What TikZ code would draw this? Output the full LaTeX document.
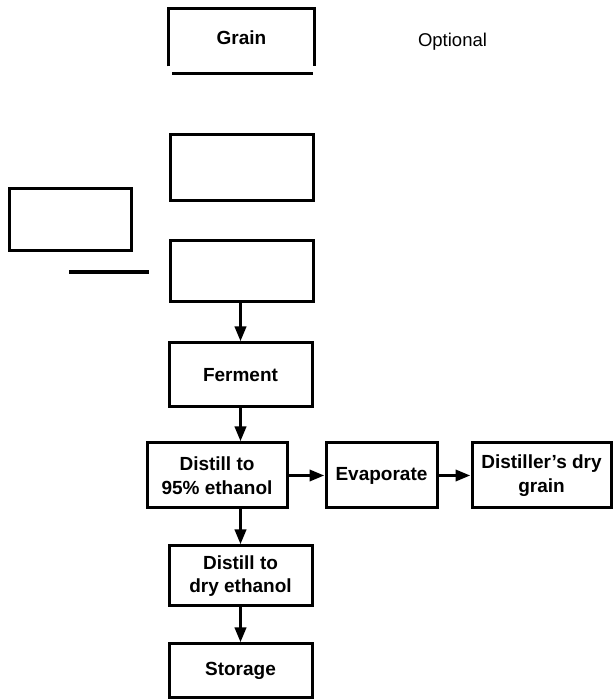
\documentclass[tikz,border=0pt]{standalone}
\usepackage{fontspec}
\setmainfont{Liberation Sans}
\usetikzlibrary{arrows.meta,positioning}

\tikzset{
	procbox/.style={draw, line width=3pt, align=center, font=\bfseries\fontsize{19}{23.5}\selectfont, inner sep=0pt},
	flow/.style={line width=3.5pt, -{Triangle[length=15pt,width=11pt]}}
}

\begin{document}
\begin{tikzpicture}[x=1pt,y=1pt]
	\useasboundingbox (0,0) rectangle (612,700);
	% top: grain (partly open outline) and note
	\node[procbox, draw=none, minimum width=143pt, minimum height=55pt] (grain) at (241.5,662.5) {Grain};
	\draw[line width=3pt] (grain.south west) -- (grain.north west) -- (grain.north east) -- (grain.south east);
	\draw[line width=3pt] (172,626) -- (313,626);
	\node[font=\fontsize{18.5}{21}\selectfont] (optional) at (452.5,658) {Optional};
	% empty boxes
	\node[procbox, minimum width=143pt, minimum height=66pt] (blankA) at (241.5,532) {};
	\node[procbox, minimum width=143pt, minimum height=61pt] (blankB) at (241.5,428.5) {};
	\node[procbox, minimum width=122pt, minimum height=62pt] (blankL) at (70,480) {};
	\draw[line width=3.5pt] (69,428) -- (149,428);
	% process chain
	\node[procbox, minimum width=143pt, minimum height=64pt] (ferment) at (240.5,325) {Ferment};
	\node[procbox, minimum width=140pt, minimum height=65pt] (distill) at (217,224.5) {Distill to\\95\% ethanol};
	\node[procbox, minimum width=111pt, minimum height=65pt] (evap) at (381.5,224.5) {Evaporate};
	\node[procbox, minimum width=139pt, minimum height=65pt] (ddg) at (541.5,224.5) {Distiller’s dry\\grain};
	\node[procbox, minimum width=143pt, minimum height=60pt] (drydist) at (240.5,124) {Distill to\\dry ethanol};
	\node[procbox, minimum width=143pt, minimum height=54pt] (storage) at (240.5,29) {Storage};
	% connectors
	\draw[flow] (blankB.south -| ferment) -- (ferment.north);
	\draw[flow] (ferment.south) -- (ferment.south |- distill.north);
	\draw[flow] (distill.east) -- (evap.west);
	\draw[flow] (evap.east) -- (ddg.west);
	\draw[flow] (drydist.north |- distill.south) -- (drydist.north);
	\draw[flow] (drydist.south) -- (storage.north);
\end{tikzpicture}
\end{document}
